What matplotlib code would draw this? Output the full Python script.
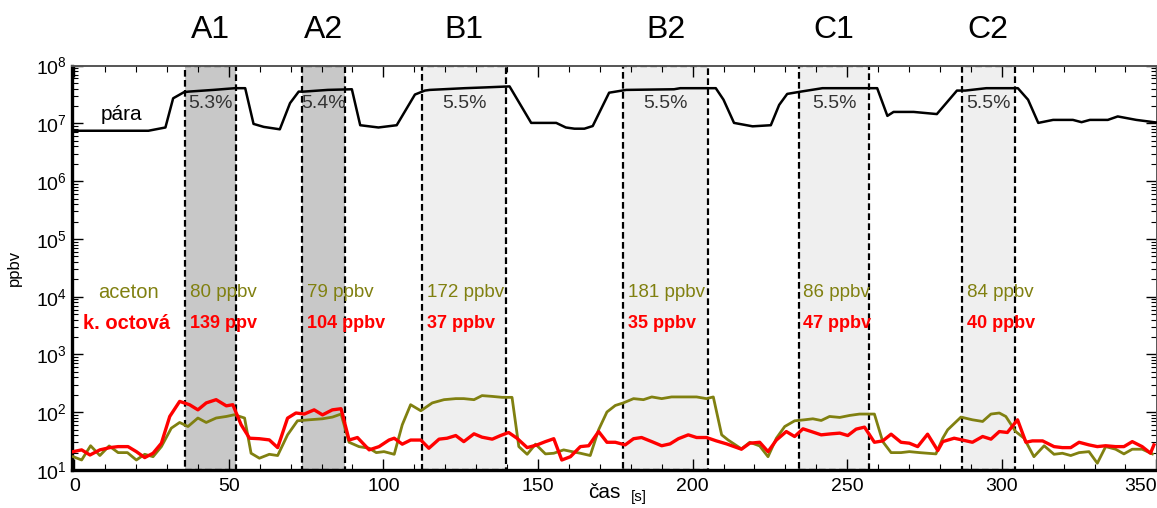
import matplotlib
matplotlib.use("Agg")
import matplotlib.pyplot as plt
from matplotlib.ticker import MultipleLocator, LogLocator, NullFormatter
import numpy as np

plt.rcParams['font.family'] = ['Liberation Sans', 'DejaVu Sans']

# water vapour (pára)
para_t = [0, 24, 29.5, 32, 35.5, 37, 45, 52, 55.3, 58, 61.3, 66.5, 69.8, 72.6, 74.2, 82,
          89.8, 92.5, 98.4, 104.3, 110.2, 113.4, 115, 126.3, 133, 140.8, 147.8, 155.9, 159,
          161.8, 165, 167.7, 173, 178.5, 194, 196, 207.5, 210, 213.4, 219.4, 225.3, 228,
          230.6, 235, 242, 259.7, 263, 265, 271.5, 279, 285.5, 288.2, 295, 305.2, 308.5,
          311.8, 316.6, 323, 325.8, 328.5, 334.3, 337.5, 343.5, 351]
para_v = [7.46e6, 7.46e6, 8.5e6, 2.72e7, 3.47e7, 3.55e7, 3.8e7, 4.07e7, 4.07e7, 9.8e6, 8.7e6,
          7.9e6, 2.24e7, 3.55e7, 3.55e7, 3.8e7, 3.9e7, 9.3e6, 8.5e6, 9.3e6, 3.16e7, 3.7e7,
          3.8e7, 4.07e7, 4.2e7, 4.37e7, 1.02e7, 1.02e7, 8.5e6, 8.1e6, 8.1e6, 9.0e6, 3.4e7,
          3.8e7, 3.9e7, 4.07e7, 4.07e7, 2.57e7, 1.02e7, 8.9e6, 9.3e6, 2.09e7, 3.24e7, 3.55e7,
          4.07e7, 4.07e7, 1.35e7, 1.58e7, 1.58e7, 1.45e7, 3.7e7, 3.7e7, 4.07e7, 4.07e7,
          2.57e7, 1.02e7, 1.15e7, 1.15e7, 1.05e7, 1.15e7, 1.15e7, 1.32e7, 1.15e7, 1.02e7]

# kyselina octová
octova_t = [-0.3, 2.4, 5.1, 8.3, 11.5, 14.2, 17.4, 20.1, 22.8, 25.5, 28.2, 30.9, 34.1, 37.3,
            40, 42.7, 45.9, 49.2, 51.3, 54, 56.7, 59.9, 63.1, 65.8, 69, 71.7, 74.4, 77.6,
            80.3, 83.5, 86.3, 88.9, 91.6, 95.4, 98.6, 101.8, 103.5, 106.1, 108.8, 112.1,
            114.7, 118, 120.6, 123.4, 126, 129.3, 131.9, 135.2, 137.9, 140.5, 143.2, 146.5,
            149.7, 152.4, 155.1, 157.7, 160.5, 163.7, 166.4, 169.6, 172.3, 175, 178.2, 180.9,
            183.5, 186.8, 190, 192.7, 195.4, 198.6, 201.3, 204.5, 207.7, 211, 215.8, 218.5,
            221.7, 224.4, 227.1, 230.3, 233, 235.7, 238.4, 241.6, 244.8, 247.6, 250.2, 252.9,
            255.6, 258.8, 261.5, 264.2, 267.4, 270.1, 272.8, 276, 279.3, 280.9, 284.6, 287.3,
            290.5, 293.8, 296.5, 299.2, 301.8, 305.1, 307.8, 309.9, 313.2, 316.9, 319.6,
            322.3, 325, 328.2, 330.9, 333.6, 336.8, 339.5, 342.2, 345.4, 348.1, 349.2]
octova_v = [20.8, 22.3, 18.2, 22.3, 24.4, 25.4, 25.4, 20.8, 16.4, 19.5, 29.1, 84.5, 154, 135,
            110, 145, 165, 129, 135, 60.6, 35.5, 34.8, 33.2, 24.4, 79, 97, 93, 110,
            90, 110, 115, 33, 36.5, 22.3, 25.4, 33, 35.5, 28, 33, 33,
            23.8, 34.2, 35.5, 39.5, 31, 42.3, 37, 34.2, 39.5, 44.6, 35.5, 24.4,
            27.2, 31, 34.8, 14.9, 17, 25.4, 26.3, 46.3, 30.2, 30.2, 27.2, 34.8,
            36.5, 31, 26.3, 28.3, 34.8, 40.6, 36.5, 36.5, 31.9, 28.3, 22.9, 29.1,
            30.2, 20.8, 33, 46.3, 38, 51.6, 46.3, 40.6, 42.3, 43.5, 39.5, 51,
            55.2, 30.2, 31.9, 41.7, 30.2, 29.1, 25.4, 41.7, 21.7, 31, 35.5, 33,
            30.2, 38, 34.2, 46.3, 44.6, 74, 30.2, 31.9, 31.9, 25.4, 24.4,
            24.4, 30.2, 27.2, 25.4, 26.3, 25.4, 25.4, 31, 25.4, 19.5, 27.2]

# aceton
aceton_t = [-0.3, 2.4, 5.3, 8.3, 11.3, 14.2, 17.2, 20.1, 22.8, 25.5, 28.2, 31.4, 34.1, 36.8,
            40, 42.7, 45.9, 49.2, 51.8, 55.1, 57.2, 59.9, 63.1, 65.8, 69, 72.2, 76, 80.3,
            83.5, 86.3, 88.9, 92.1, 95.4, 97.7, 100.2, 103.5, 106.1, 108.8, 112.1, 115.8,
            119.6, 123.4, 126, 129.3, 131.9, 135.2, 138.4, 141.6, 143.8, 146.5, 149.2, 152.4,
            155.1, 158.3, 161, 163.7, 166.9, 169.6, 172.3, 175, 177.6, 180.9, 184.1, 186.8,
            190, 193.2, 196.4, 201.3, 204.5, 206.7, 209.4, 211.5, 215.8, 218.5, 221.7, 224.4,
            227.1, 229.8, 233, 236.2, 238.9, 241.6, 244.3, 247.6, 250.8, 254, 258.8, 261.5,
            264.2, 267.4, 270.1, 273.4, 276, 278.7, 280.9, 282.5, 286.8, 290.5, 293.8, 296.5,
            299.2, 301.3, 304.5, 307.2, 310.4, 313.7, 316.9, 319.6, 322.3, 325, 328.2, 330.9,
            333.6, 336.8, 339.5, 342.2, 345.4, 348.7]
aceton_v = [17, 14.9, 26.3, 17.8, 26.1, 20, 20, 14.9, 18.7, 17, 25.4, 53, 66.5, 56.6,
            79.4, 66.5, 79.4, 84.5, 90.5, 79.4, 19.5, 16, 18.7, 17.8, 40.6, 71, 74, 77,
            82.4, 93, 30.2, 25.4, 23.8, 20, 20.8, 18.7, 60.6, 135, 106, 145,
            165, 172, 172, 165, 194, 188, 181, 181, 25.4, 18.7, 28, 19,
            19.5, 22.3, 20.8, 19.5, 17.8, 49.7, 101, 131, 145, 172, 165, 184,
            172, 184, 184, 184, 172, 184, 40.6, 33, 23.2, 30.2, 26.1, 17,
            35.5, 56.6, 71, 74, 77, 72, 84.5, 81.3, 88, 93, 93, 31,
            20, 20, 20.8, 20, 19.5, 19, 35.5, 49.7, 82.4, 74, 69.2, 93,
            97, 84.5, 46.3, 35.5, 17, 26.3, 18.7, 19.5, 17.8, 20, 20.8, 13.1,
            25.4, 22.9, 19, 22.9, 22.9, 19]

# measurement windows
okna = ['A1', 'A2', 'B1', 'B2', 'C1', 'C2']
okna_od = [35.9, 73.7, 112.6, 177.6, 234.3, 287.1]
okna_do = [52.4, 87.5, 139.8, 205.0, 257.2, 304.2]
voda = ['5.3%', '5.4%', '5.5%', '5.5%', '5.5%', '5.5%']
aceton_txt = ['80 ppbv', '79 ppbv', '172 ppbv', '181 ppbv', '86 ppbv', '84 ppbv']
octova_txt = ['139 ppv', '104 ppbv', '37 ppbv', '35 ppbv', '47 ppbv', '40 ppbv']

olive = '#808010'

fig = plt.figure(figsize=(11.57, 5.08), dpi=100)
ax = fig.add_axes([0.062, 0.0748, 0.938, 0.796])

for i, name in enumerate(okna):
    fc = '#c8c8c8' if name.startswith('A') else '#efefef'
    ax.axvspan(okna_od[i], okna_do[i], facecolor=fc, edgecolor='black',
               linestyle=(0, (3, 1.5)), linewidth=1.6, zorder=1)
    xm = (okna_od[i] + okna_do[i]) / 2
    ax.text(xm, 1.088, name, transform=ax.get_xaxis_transform(), ha='center',
            va='center', fontsize=23)
    ax.text(xm, 10**7.35, voda[i], ha='center', va='center', fontsize=14, color='#333333')
    ax.text(okna_od[i] + 1.5, 10**4.08, aceton_txt[i], ha='left', va='center',
            fontsize=13.5, color=olive)
    ax.text(okna_od[i] + 1.5, 10**3.54, octova_txt[i], ha='left', va='center',
            fontsize=13, color='red', fontweight='bold')

ax.plot(para_t, para_v, color='black', lw=1.8, zorder=3)
ax.plot(aceton_t, aceton_v, color=olive, lw=2.0, zorder=3)
ax.plot(octova_t, octova_v, color='red', lw=2.4, zorder=4)

ax.text(15.4, 10**7.15, 'pára', ha='center', va='center', fontsize=15)
ax.text(17.6, 10**4.08, 'aceton', ha='center', va='center', fontsize=14.5, color=olive)
ax.text(17.0, 10**3.54, 'k. octová', ha='center', va='center', fontsize=14.5,
        color='red', fontweight='bold')

ax.set_yscale('log')
ax.set_ylim(10, 1e8)
ax.set_xlim(-0.8, 350.2)
ax.set_xticks(np.arange(0, 351, 50))
ax.xaxis.set_minor_locator(MultipleLocator(10))
ax.yaxis.set_major_locator(LogLocator(base=10, numticks=10))
ax.yaxis.set_minor_locator(LogLocator(base=10, subs=np.arange(2, 10), numticks=100))
ax.yaxis.set_minor_formatter(NullFormatter())
ax.tick_params(which='both', direction='in', top=True, right=True, labelsize=14)
ax.tick_params(which='major', length=8, width=1)
ax.tick_params(which='minor', length=4, width=0.8)
ax.tick_params(axis='x', which='major', pad=6)
ax.get_xticklabels()[-1].set_horizontalalignment('right')

for s in ['left', 'bottom']:
    ax.spines[s].set_linewidth(2.4)
for s in ['top', 'right']:
    ax.spines[s].set_linewidth(1.4)
    ax.spines[s].set_color('#555555')

ax.set_ylabel('ppbv', fontsize=12, labelpad=10)
fig.text(0.522, 0.012, 'čas', fontsize=15, ha='center', va='bottom')
fig.text(0.552, 0.008, '[s]', fontsize=11, ha='center', va='bottom')

fig.savefig('out.png', dpi=100)
